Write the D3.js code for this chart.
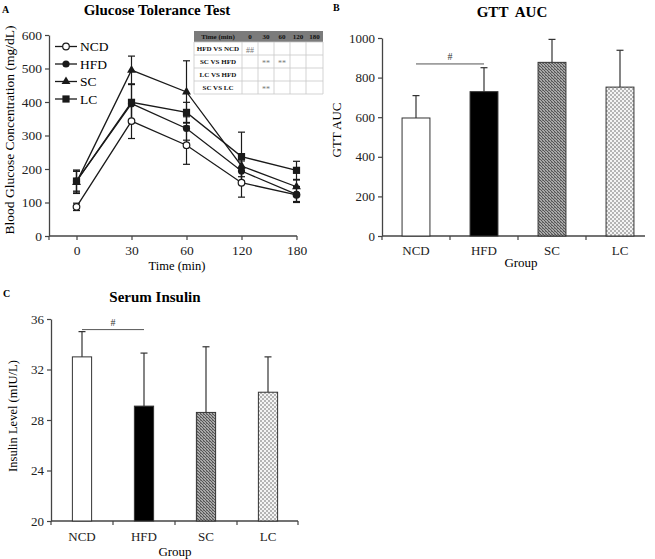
<!DOCTYPE html>
<html><head><meta charset="utf-8">
<script src="https://cdn.jsdelivr.net/npm/d3@7"></script>
<style>
body{margin:0;background:#fff;}
svg{display:block;font-family:"Liberation Serif","Times New Roman",serif;}
</style></head>
<body>
<svg id="chart" width="655" height="559"></svg>
<script>
// ---------- DATA ----------
const times = ["0","30","60","120","180"];
const groups = ["NCD","HFD","SC","LC"];
const gttNCD = [87,343,271,159,123];
const gttHFD = [164,395,321,194,124];
const gttSC  = [160,495,430,209,147];
const gttLC  = [164,399,369,237,196];
const errNCD = [11,52,57,43,20];
const errHFD = [30,57,35,30,24];
const errSC  = [33,42,93,32,20];
const errLC  = [33,55,30,73,27];
const gttYTicks = [0,100,200,300,400,500,600];

const tableHeader = ["Time (min)","0","30","60","120","180"];
const tableRows = [
  ["HFD VS NCD","##","","","",""],
  ["SC VS HFD","","**","**","",""],
  ["LC VS HFD","","","","",""],
  ["SC VS LC","","**","","",""]
];

const aucMean = [596,729,877,752];
const aucErr  = [113,121,116,186];
const aucYTicks = [0,200,400,600,800,1000];

const insMean = [33.0,29.1,28.6,30.2];
const insErr  = [2.0,4.2,5.2,2.8];
const insYTicks = [20,24,28,32,36];

// ---------- SETUP ----------
const FONT = "'Liberation Serif','Times New Roman',serif";
const svg = d3.select("#chart");
const axisCol = "#444";
const defs = svg.append("defs");
const pSC = defs.append("pattern").attr("id","patSC").attr("patternUnits","userSpaceOnUse").attr("width",3).attr("height",3);
pSC.append("rect").attr("width",3).attr("height",3).attr("fill","#a8a8a8");
pSC.append("rect").attr("x",0).attr("y",0).attr("width",1).attr("height",1).attr("fill","#555");
pSC.append("rect").attr("x",1).attr("y",1).attr("width",1).attr("height",1).attr("fill","#555");
pSC.append("rect").attr("x",2).attr("y",2).attr("width",1).attr("height",1).attr("fill","#555");
pSC.append("rect").attr("x",2).attr("y",0).attr("width",1).attr("height",1).attr("fill","#777");
const pLC = defs.append("pattern").attr("id","patLC").attr("patternUnits","userSpaceOnUse").attr("width",4).attr("height",4);
pLC.append("rect").attr("width",4).attr("height",4).attr("fill","#f4f4f4");
pLC.append("rect").attr("x",0).attr("y",0).attr("width",2).attr("height",2).attr("fill","#b4b4b4");
pLC.append("rect").attr("x",2).attr("y",2).attr("width",2).attr("height",2).attr("fill","#b4b4b4");

const barFill = {NCD:"#fff",HFD:"#000",SC:"url(#patSC)",LC:"url(#patLC)"};

function styleAxis(g, fs){
  g.attr("font-size",fs).attr("font-family",FONT);
  g.selectAll("path.domain").attr("stroke",axisCol).attr("stroke-width",1.3);
  g.selectAll(".tick line").attr("stroke",axisCol).attr("stroke-width",1.2);
  g.selectAll(".tick text").attr("fill","#222");
}

// ---------- PANEL A ----------
{
  const yA = d3.scaleLinear().domain([0,600]).range([236,35]);
  const xA = d3.scalePoint().domain(times).range([49,324]).padding(0.5);
  const x0 = 49, x1 = 297;

  svg.append("text").attr("x",2).attr("y",13).attr("font-weight","bold").attr("font-size",10).text("A");
  svg.append("text").attr("x",157).attr("y",15).attr("text-anchor","middle").attr("font-weight","bold").attr("font-size",15).text("Glucose Tolerance Test");

  const gy = svg.append("g").attr("transform",`translate(${x0},0)`)
    .call(d3.axisLeft(yA).tickValues(gttYTicks).tickFormat(d3.format("d")).tickSize(4).tickSizeOuter(0).tickPadding(3));
  styleAxis(gy,13.5);

  const gx = svg.append("g").attr("transform","translate(0,236)")
    .call(d3.axisBottom(xA).tickSize(4).tickSizeOuter(0).tickPadding(5));
  gx.select("path.domain").remove();
  styleAxis(gx,13.5);
  gx.append("line").attr("x1",x0).attr("x2",x1).attr("y1",0).attr("y2",0).attr("stroke",axisCol).attr("stroke-width",1.3);
  gx.append("line").attr("x1",x0).attr("x2",x0).attr("y1",0).attr("y2",4).attr("stroke",axisCol).attr("stroke-width",1.2);

  svg.append("text").attr("x",177).attr("y",270).attr("text-anchor","middle").attr("font-size",12.5).text("Time (min)");
  svg.append("text").attr("transform","translate(14,130) rotate(-90)").attr("text-anchor","middle").attr("font-size",13.5).text("Blood Glucose Concentration (mg/dL)");

  const series = [
    {name:"NCD",vals:gttNCD,err:errNCD,sym:"circleOpen"},
    {name:"HFD",vals:gttHFD,err:errHFD,sym:"circle"},
    {name:"SC",vals:gttSC,err:errSC,sym:"triangle"},
    {name:"LC",vals:gttLC,err:errLC,sym:"square"}
  ];
  const line = d3.line().x((d,i)=>xA(times[i])).y(d=>yA(d));
  const col = "#1a1a1a";
  function drawSym(g, sym, x, y){
    if(sym==="circleOpen") g.append("circle").attr("cx",x).attr("cy",y).attr("r",3.3).attr("fill","#fff").attr("stroke",col).attr("stroke-width",1.2);
    else if(sym==="circle") g.append("circle").attr("cx",x).attr("cy",y).attr("r",3.6).attr("fill",col);
    else if(sym==="triangle") g.append("path").attr("d",d3.symbol(d3.symbolTriangle,34)()).attr("transform",`translate(${x},${y})`).attr("fill",col);
    else g.append("rect").attr("x",x-3.6).attr("y",y-3.6).attr("width",7.2).attr("height",7.2).attr("fill",col);
  }
  const gs = svg.append("g");
  series.forEach(s=>{
    s.vals.forEach((v,i)=>{
      const x = xA(times[i]);
      const e = s.err[i];
      gs.append("line").attr("x1",x).attr("x2",x).attr("y1",yA(v+e)).attr("y2",yA(v-e)).attr("stroke",col).attr("stroke-width",1.2);
      [v+e,v-e].forEach(t=>gs.append("line").attr("x1",x-3.5).attr("x2",x+3.5).attr("y1",yA(t)).attr("y2",yA(t)).attr("stroke",col).attr("stroke-width",1.2));
    });
    gs.append("path").attr("d",line(s.vals)).attr("fill","none").attr("stroke",col).attr("stroke-width",1.3);
  });
  series.forEach(s=>s.vals.forEach((v,i)=>drawSym(gs,s.sym,xA(times[i]),yA(v))));

  const legY = d3.scalePoint().domain(groups).range([46.5,99]);
  series.forEach(s=>{
    const y = legY(s.name);
    svg.append("line").attr("x1",55).attr("x2",77).attr("y1",y).attr("y2",y).attr("stroke",col).attr("stroke-width",1.3);
    drawSym(svg,s.sym,66,y);
    svg.append("text").attr("x",80).attr("y",y+4.5).attr("font-size",13.5).text(s.name);
  });

  const tx = [194,242,258,274,290,306,323];
  const ty = [31,42,55,68,81,94];
  const gt = svg.append("g").attr("font-weight","bold").attr("font-size",7).attr("text-anchor","middle");
  gt.append("rect").attr("x",tx[0]).attr("y",ty[0]).attr("width",tx[6]-tx[0]).attr("height",ty[1]-ty[0]).attr("fill","#7b7b7b");
  gt.append("rect").attr("x",tx[0]).attr("y",ty[1]).attr("width",tx[6]-tx[0]).attr("height",ty[5]-ty[1]).attr("fill","#fff");
  for(let r=1;r<ty.length;r++) gt.append("line").attr("x1",tx[0]).attr("x2",tx[6]).attr("y1",ty[r]).attr("y2",ty[r]).attr("stroke","#c8c8c8").attr("stroke-width",0.8);
  for(let c=0;c<tx.length;c++) gt.append("line").attr("x1",tx[c]).attr("x2",tx[c]).attr("y1",ty[1]).attr("y2",ty[5]).attr("stroke","#c8c8c8").attr("stroke-width",0.8);
  tableHeader.forEach((h,c)=>{
    gt.append("text").attr("x",(tx[c]+tx[c+1])/2).attr("y",ty[0]+8).attr("fill","#111").text(h);
  });
  tableRows.forEach((row,r)=>{
    row.forEach((cell,c)=>{
      if(!cell) return;
      gt.append("text").attr("x",(tx[c]+tx[c+1])/2).attr("y",(ty[r+1]+ty[r+2])/2+ (c===0?2.5:4))
        .attr("fill",c===0?"#111":"#777").attr("font-weight",c===0?"bold":"normal")
        .attr("font-size",c===0?7:8).text(cell);
    });
  });
}

// ---------- BAR PANELS ----------
function barPanel(o){
  const y = d3.scaleLinear().domain(o.domain).range([o.y0,o.y1]);
  const x = d3.scaleBand().domain(groups).range([o.x0,o.xEnd]).paddingInner(o.pi).paddingOuter(o.pi/2);
  svg.append("text").attr("x",o.lx).attr("y",o.ly).attr("font-weight","bold").attr("font-size",10).text(o.letter);
  svg.append("text").attr("x",o.tx).attr("y",o.ty).attr("text-anchor","middle").attr("font-weight","bold").attr("font-size",15).style("white-space","pre").text(o.title);
  const gy = svg.append("g").attr("transform",`translate(${o.x0},0)`)
    .call(d3.axisLeft(y).tickValues(o.ticks).tickFormat(d3.format("d")).tickSize(4).tickSizeOuter(0).tickPadding(3));
  styleAxis(gy,o.fs);
  const step = x.step();
  const gx = svg.append("g").attr("transform",`translate(0,${o.y0})`);
  gx.append("line").attr("x1",o.x0).attr("x2",o.xAxisEnd).attr("y1",0).attr("y2",0).attr("stroke",axisCol).attr("stroke-width",1.3);
  const bounds = groups.map(g=>x(g)+x.bandwidth()/2-step/2);
  if(o.endTick) bounds.push(o.xAxisEnd);
  bounds.forEach(b=>gx.append("line").attr("x1",b).attr("x2",b).attr("y1",0).attr("y2",4).attr("stroke",axisCol).attr("stroke-width",1.2));
  groups.forEach(g=>gx.append("text").attr("x",x(g)+x.bandwidth()/2).attr("y",o.tickLabDy).attr("text-anchor","middle").attr("font-size",o.fs).attr("fill","#222").text(g));
  svg.append("text").attr("x",o.gx).attr("y",o.gy).attr("text-anchor","middle").attr("font-size",o.fs).text("Group");
  svg.append("text").attr("transform",`translate(${o.ylx},${o.yly}) rotate(-90)`).attr("text-anchor","middle").attr("font-size",o.yfs).text(o.ylabel);
  groups.forEach((g,i)=>{
    const cx = x(g)+x.bandwidth()/2;
    const top = y(o.mean[i]), et = y(o.mean[i]+o.err[i]);
    svg.append("line").attr("x1",cx).attr("x2",cx).attr("y1",top).attr("y2",et).attr("stroke","#333").attr("stroke-width",1.2);
    svg.append("line").attr("x1",cx-3.5).attr("x2",cx+3.5).attr("y1",et).attr("y2",et).attr("stroke","#333").attr("stroke-width",1.2);
    svg.append("rect").attr("x",x(g)).attr("y",top).attr("width",x.bandwidth()).attr("height",o.y0-top)
      .attr("fill",barFill[g]).attr("stroke","#333").attr("stroke-width",1);
  });
  const sy = y(o.sig);
  const sx1 = x("NCD")+x.bandwidth()/2, sx2 = x("HFD")+x.bandwidth()/2;
  svg.append("line").attr("x1",sx1).attr("x2",sx2).attr("y1",sy).attr("y2",sy).attr("stroke","#555").attr("stroke-width",1);
  svg.append("text").attr("x",(sx1+sx2)/2).attr("y",sy-4).attr("text-anchor","middle").attr("font-size",10).attr("fill","#333").text("#");
}

barPanel({domain:[0,1000],y0:236,y1:38,x0:382,xEnd:654,xAxisEnd:645,pi:0.59,ticks:aucYTicks,
  mean:aucMean,err:aucErr,sig:869,letter:"B",lx:333,ly:11,title:"GTT  AUC",tx:512,ty:17,fs:13,
  tickLabDy:19,gx:521,gy:267,ylx:341,yly:130,yfs:13,ylabel:"GTT AUC",endTick:false});

barPanel({domain:[20,36],y0:521,y1:319,x0:51,xEnd:299,xAxisEnd:298,pi:0.69,ticks:insYTicks,
  mean:insMean,err:insErr,sig:35.16,letter:"C",lx:3,ly:297,title:"Serum Insulin",tx:155,ty:302,fs:13,
  tickLabDy:20,gx:175,gy:556,ylx:17,yly:416,yfs:12.5,ylabel:"Insulin Level (mIU/L)",endTick:true});
</script>
</body></html>
